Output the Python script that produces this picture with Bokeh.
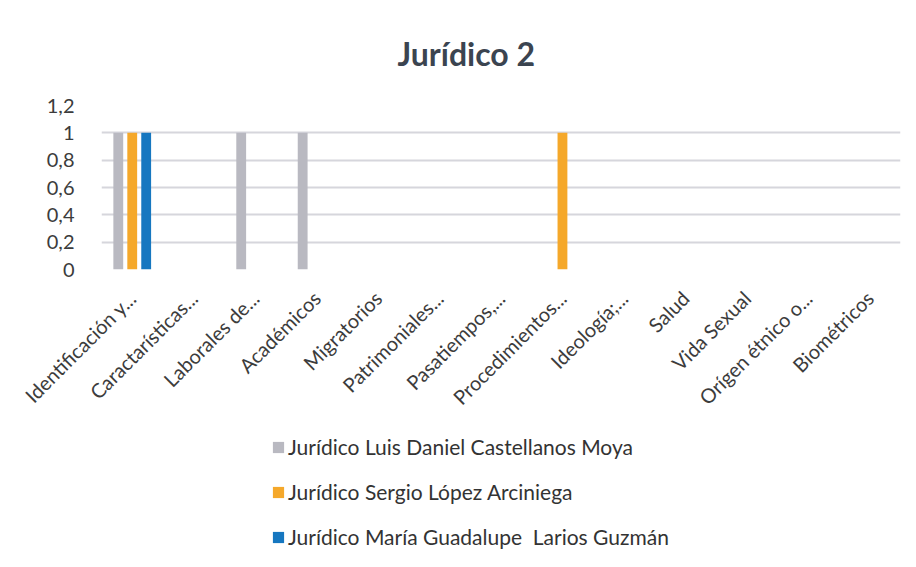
from bokeh.plotting import figure
from bokeh.layouts import column
from bokeh.models import ColumnDataSource, FactorRange, Range1d, FixedTicker, CustomJSTickFormatter, Legend, LegendItem
from bokeh.transform import dodge
from bokeh.embed import file_html
from bokeh.resources import INLINE
import math

categories = ["Identificación y...", "Caractarísticas...", "Laborales de...", "Académicos",
              "Migratorios", "Patrimoniales...", "Pasatiempos,...", "Procedimientos...",
              "Ideología;...", "Salud", "Vida Sexual", "Orígen étnico o...", "Biométricos"]
series_names = ["Jurídico Luis Daniel Castellanos Moya",
                "Jurídico Sergio López Arciniega",
                "Jurídico María Guadalupe  Larios Guzmán"]
luis = [1, 0, 1, 1, 0, 0, 0, 0, 0, 0, 0, 0, 0]
sergio = [1, 0, 0, 0, 0, 0, 0, 1, 0, 0, 0, 0, 0]
maria = [1, 0, 0, 0, 0, 0, 0, 0, 0, 0, 0, 0, 0]
y_ticks = [0, 0.2, 0.4, 0.6, 0.8, 1.0, 1.2]

colors = ["#b9b9c1", "#f5a82a", "#1677c0"]
keys = ["luis", "sergio", "maria"]
FONT = "Lato"

src = ColumnDataSource(dict(cat=categories, luis=luis, sergio=sergio, maria=maria))

p = figure(width=910, height=430, x_range=FactorRange(*categories, range_padding=0),
           y_range=Range1d(0, 1.2), output_backend="svg", toolbar_location=None,
           min_border_left=101, min_border_right=10, min_border_top=105, min_border_bottom=161)
p.outline_line_color = None

for key, off, col in zip(keys, [-0.227, 0.0, 0.227], colors):
    p.vbar(x=dodge("cat", off, range=p.x_range), top=key, width=0.16, source=src,
           fill_color=col, line_color=None)

p.title.text = "Jurídico 2"
p.title.align = "left"
p.title.offset = 296
p.title.vertical_align = "middle"
p.title.text_font = FONT
p.title.text_font_size = "32px"
p.title.text_font_style = "bold"
p.title.text_color = "#3b4450"
p.title.standoff = 63

p.xgrid.grid_line_color = None
p.ygrid.grid_line_color = "#d6d6dc"
p.ygrid.grid_line_width = 2
p.yaxis.ticker = FixedTicker(ticks=y_ticks)
p.yaxis.formatter = CustomJSTickFormatter(code="var s=(Math.round(tick*10)/10).toString(); return s.replace('.', ',');")
for ax in (p.xaxis, p.yaxis):
    ax.axis_line_color = None
    ax.major_tick_line_color = None
    ax.minor_tick_line_color = None
    ax.major_label_text_font = FONT
    ax.major_label_text_color = "#3c3c3c"
p.yaxis.major_label_text_font_size = "20px"
p.yaxis.major_label_standoff = 21
p.xaxis.major_label_text_font_size = "20px"
p.xaxis.major_label_orientation = math.pi / 4
p.xaxis.major_label_standoff = 19

# legend panel
p2 = figure(width=910, height=130, x_range=Range1d(0, 1), y_range=Range1d(0, 1),
            output_backend="svg", toolbar_location=None, min_border=0)
p2.outline_line_color = None
p2.axis.visible = False
p2.grid.visible = False
leg_renderers = []
for col in colors:
    r = p2.quad(left=[0.5], right=[0.5], bottom=[0.5], top=[0.5], fill_color=col, line_color=None)
    leg_renderers.append(r)
legend = Legend(items=[LegendItem(label=n, renderers=[r]) for n, r in zip(series_names, leg_renderers)],
                orientation="vertical", location=(170, 11), border_line_color=None,
                background_fill_alpha=0, label_text_font=FONT, label_text_font_size="21px",
                label_text_color="#333333", glyph_width=14, glyph_height=14, label_height=24,
                spacing=20, label_standoff=3, padding=0, margin=0)
p2.add_layout(legend, "center")

layout = column(p, p2, spacing=0)
open("out.html", "w").write(file_html(layout, INLINE))
